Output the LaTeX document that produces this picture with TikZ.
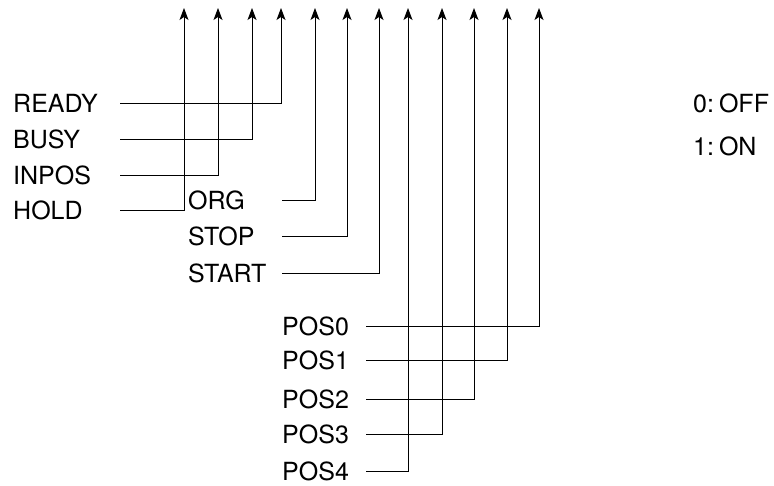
\documentclass[tikz,border=0pt]{standalone}
\usepackage{fontspec}
\setmainfont{TeX Gyre Heros}
\usetikzlibrary{arrows.meta}

\begin{document}
\begin{tikzpicture}[x=1pt, y=-1pt, >={Stealth[length=12pt,width=9pt,inset=3pt]},
  sig/.style={->, line width=1pt, line join=miter},
  lbl/.style={anchor=base west, inner sep=0pt, font=\fontsize{25}{30}\selectfont}]

\useasboundingbox (0,0) rectangle (774,486);

% Arrow tips at the top
\coordinate (t1) at (184,8);
\coordinate (t2) at (218,8);
\coordinate (t3) at (252,8);
\coordinate (t4) at (281,8);
\coordinate (t5) at (315,8);
\coordinate (t6) at (347,8);
\coordinate (t7) at (379,8);
\coordinate (t8) at (408,8);
\coordinate (t9) at (442,8);
\coordinate (t10) at (474,8);
\coordinate (t11) at (507,8);
\coordinate (t12) at (539,8);

% First group of signals
\node[lbl] (ready) at (13,113) {READY};
\node[lbl] (busy)  at (13,149) {BUSY};
\node[lbl] (inpos) at (13,185) {INPOS};
\node[lbl] (hold)  at (13,220) {HOLD};

\coordinate (ready-s) at (120,104);
\coordinate (busy-s)  at (120,140);
\coordinate (inpos-s) at (120,176);
\coordinate (hold-s)  at (120,211);

\draw[sig] (ready-s) -| (t4);
\draw[sig] (busy-s)  -| (t3);
\draw[sig] (inpos-s) -| (t2);
\draw[sig] (hold-s)  -| (t1);

% Second group of signals
\node[lbl] (org)   at (188,210) {ORG};
\node[lbl] (stop)  at (188,246) {STOP};
\node[lbl] (start) at (188,283) {START};

\coordinate (org-s)   at (282,201);
\coordinate (stop-s)  at (282,237);
\coordinate (start-s) at (282,274);

\draw[sig] (org-s)   -| (t5);
\draw[sig] (stop-s)  -| (t6);
\draw[sig] (start-s) -| (t7);

% Position bits
\node[lbl] (pos0) at (282,336) {POS0};
\node[lbl] (pos1) at (282,370) {POS1};
\node[lbl] (pos2) at (282,408) {POS2};
\node[lbl] (pos3) at (282,443) {POS3};
\node[lbl] (pos4) at (282,480) {POS4};

\coordinate (pos0-s) at (366,327);
\coordinate (pos1-s) at (366,361);
\coordinate (pos2-s) at (366,399);
\coordinate (pos3-s) at (366,434);
\coordinate (pos4-s) at (366,471);

\draw[sig] (pos0-s) -| (t12);
\draw[sig] (pos1-s) -| (t11);
\draw[sig] (pos2-s) -| (t10);
\draw[sig] (pos3-s) -| (t9);
\draw[sig] (pos4-s) -| (t8);

% Legend
\node[lbl] (off) at (693,113) {0:\hspace{0.2em}OFF};
\node[lbl] (on)  at (693,156) {1:\hspace{0.2em}ON};

\end{tikzpicture}
\end{document}
